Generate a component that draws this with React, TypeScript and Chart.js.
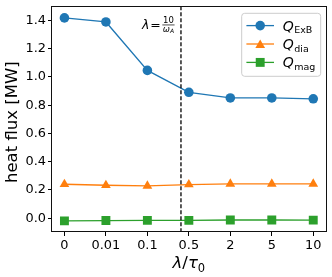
import React, { useEffect, useRef } from 'react';
import { Chart, registerables } from 'chart.js';
Chart.register(...registerables);

const categories = ['0', '0.01', '0.1', '0.5', '2', '5', '10'];
const qExB = [1.418, 1.389, 1.046, 0.891, 0.851, 0.851, 0.845];
const qDia = [0.240, 0.233, 0.228, 0.238, 0.243, 0.243, 0.243];
const qMag = [-0.019, -0.017, -0.016, -0.016, -0.013, -0.013, -0.014];
const yTicks = [0, 0.2, 0.4, 0.6, 0.8, 1.0, 1.2, 1.4];
const vlineX = 2.81;
const seriesSub = ['ExB', 'dia', 'mag'];
const colors = ['#1f77b4', '#ff7f0e', '#2ca02c'];
const markers = ['circle', 'triangle', 'rect'];
const radii = [4.8, 5.6, 6.3];

const FONT = "'DejaVu Sans', sans-serif";

function drawMarker(ctx: CanvasRenderingContext2D, style: string, x: number, y: number, r: number, color: string) {
  ctx.save();
  ctx.fillStyle = color;
  ctx.beginPath();
  if (style === 'circle') {
    ctx.arc(x, y, r, 0, Math.PI * 2);
  } else if (style === 'triangle') {
    const a = (2 * Math.PI) / 3;
    ctx.moveTo(x, y - r);
    ctx.lineTo(x + Math.sin(a) * r, y - Math.cos(a) * r);
    ctx.lineTo(x + Math.sin(2 * a) * r, y - Math.cos(2 * a) * r);
    ctx.closePath();
  } else {
    const s = Math.SQRT1_2 * r;
    ctx.rect(x - s, y - s, 2 * s, 2 * s);
  }
  ctx.fill();
  ctx.restore();
}

const customPlugin = {
  id: 'custom',
  afterDatasetsDraw(chart: any) {
    const ctx: CanvasRenderingContext2D = chart.ctx;
    const { top, bottom } = chart.chartArea;
    const xs = chart.scales.x;
    const vx = xs.getPixelForValue(vlineX);
    ctx.save();
    ctx.strokeStyle = '#000';
    ctx.lineWidth = 1.3;
    ctx.setLineDash([4, 2]);
    ctx.beginPath();
    ctx.moveTo(vx, top);
    ctx.lineTo(vx, bottom);
    ctx.stroke();
    ctx.restore();
  },
  afterDraw(chart: any) {
    const ctx: CanvasRenderingContext2D = chart.ctx;
    const { left, right, top, bottom } = chart.chartArea;
    const xs = chart.scales.x;
    ctx.save();
    // frame
    ctx.strokeStyle = '#111';
    ctx.lineWidth = 1;
    ctx.strokeRect(Math.round(left) - 0.5, Math.round(top) + 0.5, Math.round(right - left) + 1, Math.round(bottom - top) - 1);

    // annotation  lambda = 10 / omega_A
    const vx = xs.getPixelForValue(vlineX);
    let ax = vx - 39;
    const base = top + 22.5;
    ctx.fillStyle = '#000';
    ctx.textBaseline = 'alphabetic';
    ctx.textAlign = 'left';
    ctx.font = `italic 12.5px ${FONT}`;
    ctx.fillText('λ', ax, base);
    ax += ctx.measureText('λ').width + 1;
    ctx.font = `12.5px ${FONT}`;
    ctx.fillText('=', ax, base);
    ax += ctx.measureText('=').width + 1.5;
    ctx.font = `8.5px ${FONT}`;
    const numW = ctx.measureText('10').width;
    ctx.font = `italic 8.5px ${FONT}`;
    const wW = ctx.measureText('ω').width;
    ctx.font = `italic 6px ${FONT}`;
    const aW = ctx.measureText('A').width;
    const denW = wW + aW;
    const fw = Math.max(numW, denW) + 1;
    const barY = base - 4.2;
    ctx.fillRect(ax, barY, fw, 0.7);
    ctx.font = `8.5px ${FONT}`;
    ctx.fillText('10', ax + (fw - numW) / 2, barY - 1.3);
    ctx.font = `italic 8.5px ${FONT}`;
    const dx = ax + (fw - denW) / 2;
    ctx.fillText('ω', dx, barY + 7);
    ctx.font = `italic 6px ${FONT}`;
    ctx.fillText('A', dx + wW, barY + 8);

    // legend
    const bw = 79, bh = 63;
    const bx = right - 5 - bw;
    const by = top + 7;
    ctx.beginPath();
    const rr = 3;
    ctx.moveTo(bx + rr, by);
    ctx.lineTo(bx + bw - rr, by);
    ctx.quadraticCurveTo(bx + bw, by, bx + bw, by + rr);
    ctx.lineTo(bx + bw, by + bh - rr);
    ctx.quadraticCurveTo(bx + bw, by + bh, bx + bw - rr, by + bh);
    ctx.lineTo(bx + rr, by + bh);
    ctx.quadraticCurveTo(bx, by + bh, bx, by + bh - rr);
    ctx.lineTo(bx, by + rr);
    ctx.quadraticCurveTo(bx, by, bx + rr, by);
    ctx.closePath();
    ctx.fillStyle = 'rgba(255,255,255,0.8)';
    ctx.fill();
    ctx.strokeStyle = '#cccccc';
    ctx.lineWidth = 1;
    ctx.stroke();
    for (let i = 0; i < 3; i++) {
      const ry = by + 12.3 + i * 18.4;
      const lx0 = bx + 4.7, lx1 = bx + 32.3;
      ctx.strokeStyle = colors[i];
      ctx.lineWidth = 1.3;
      ctx.beginPath();
      ctx.moveTo(lx0, ry);
      ctx.lineTo(lx1, ry);
      ctx.stroke();
      drawMarker(ctx, markers[i], (lx0 + lx1) / 2, ry + (i === 1 ? 1.2 : 0), radii[i], colors[i]);
      const tx = bx + 41;
      ctx.fillStyle = '#000';
      ctx.font = `italic 14px ${FONT}`;
      ctx.fillText('Q', tx, ry + 5);
      const qW = ctx.measureText('Q').width;
      ctx.font = `9.5px ${FONT}`;
      ctx.fillText(seriesSub[i], tx + qW + 0.5, ry + 7.5);
    }

    // y axis title
    ctx.save();
    ctx.translate(13, (top + bottom) / 2 + 3);
    ctx.rotate(-Math.PI / 2);
    ctx.font = `16.5px ${FONT}`;
    ctx.textAlign = 'center';
    ctx.textBaseline = 'middle';
    ctx.fillStyle = '#000';
    ctx.fillText('heat flux [MW]', 0, 0);
    ctx.restore();

    // x axis title  lambda / tau_0
    ctx.fillStyle = '#000';
    ctx.textAlign = 'left';
    ctx.textBaseline = 'alphabetic';
    const parts: [string, string, number][] = [
      ['λ', `italic 16.5px ${FONT}`, 0],
      ['/', `16.5px ${FONT}`, 0],
      ['τ', `italic 16.5px ${FONT}`, 0],
      ['0', `11.5px ${FONT}`, 3.5],
    ];
    let total = 0;
    for (const p of parts) { ctx.font = p[1]; total += ctx.measureText(p[0]).width; }
    let tx = (left + right) / 2 - total / 2;
    const tb = bottom + 36;
    for (const p of parts) {
      ctx.font = p[1];
      ctx.fillText(p[0], tx, tb + p[2]);
      tx += ctx.measureText(p[0]).width;
    }
    ctx.restore();
  },
};

export default function App() {
  const ref = useRef<HTMLCanvasElement>(null);
  useEffect(() => {
    const canvas = ref.current!;
    const mk = (vals: number[], i: number) => ({
      data: vals.map((v, k) => ({ x: k, y: v })),
      borderColor: colors[i],
      backgroundColor: colors[i],
      pointBackgroundColor: colors[i],
      pointBorderColor: colors[i],
      pointBorderWidth: 0,
      pointStyle: markers[i],
      pointRadius: radii[i],
      borderWidth: 1.3,
      tension: 0,
      fill: false,
    });
    const tickFont = { family: FONT, size: 12.9 };
    const chart = new Chart(canvas, {
      type: 'line',
      data: { datasets: [mk(qExB, 0), mk(qDia, 1), mk(qMag, 2)] },
      options: {
        responsive: false,
        animation: false,
        events: [],
        layout: { padding: { top: 5, right: 6, left: 0, bottom: 0 } },
        plugins: { legend: { display: false }, tooltip: { enabled: false } },
        scales: {
          x: {
            type: 'linear',
            min: -0.3,
            max: 6.3,
            afterBuildTicks: (s: any) => { s.ticks = categories.map((_, i) => ({ value: i })); },
            afterFit: (s: any) => { s.height = 45; s.paddingLeft = 0; s.paddingRight = 0; },
            ticks: {
              callback: (v: any) => categories[Math.round(Number(v))],
              font: tickFont,
              color: '#000',
              padding: 2,
              autoSkip: false,
              maxRotation: 0,
            },
            grid: { drawOnChartArea: false, tickLength: 4, color: '#000', tickWidth: 1 },
            border: { display: false },
          },
          y: {
            type: 'linear',
            min: -0.098,
            max: 1.5,
            afterBuildTicks: (s: any) => { s.ticks = yTicks.map((v) => ({ value: v })); },
            afterFit: (s: any) => { s.width = 52; s.paddingTop = 0; s.paddingBottom = 0; },
            ticks: {
              callback: (v: any) => Number(v).toFixed(1),
              font: tickFont,
              color: '#000',
              padding: 2,
            },
            grid: { drawOnChartArea: false, tickLength: 4, color: '#000', tickWidth: 1 },
            border: { display: false },
          },
        },
      },
      plugins: [customPlugin],
    } as any);
    return () => chart.destroy();
  }, []);
  return (
    <div style={{ position: 'fixed', left: 0, top: 0, width: 332, height: 277, background: '#fff' }}>
      <canvas ref={ref} width={332} height={277} style={{ display: 'block' }} />
    </div>
  );
}
